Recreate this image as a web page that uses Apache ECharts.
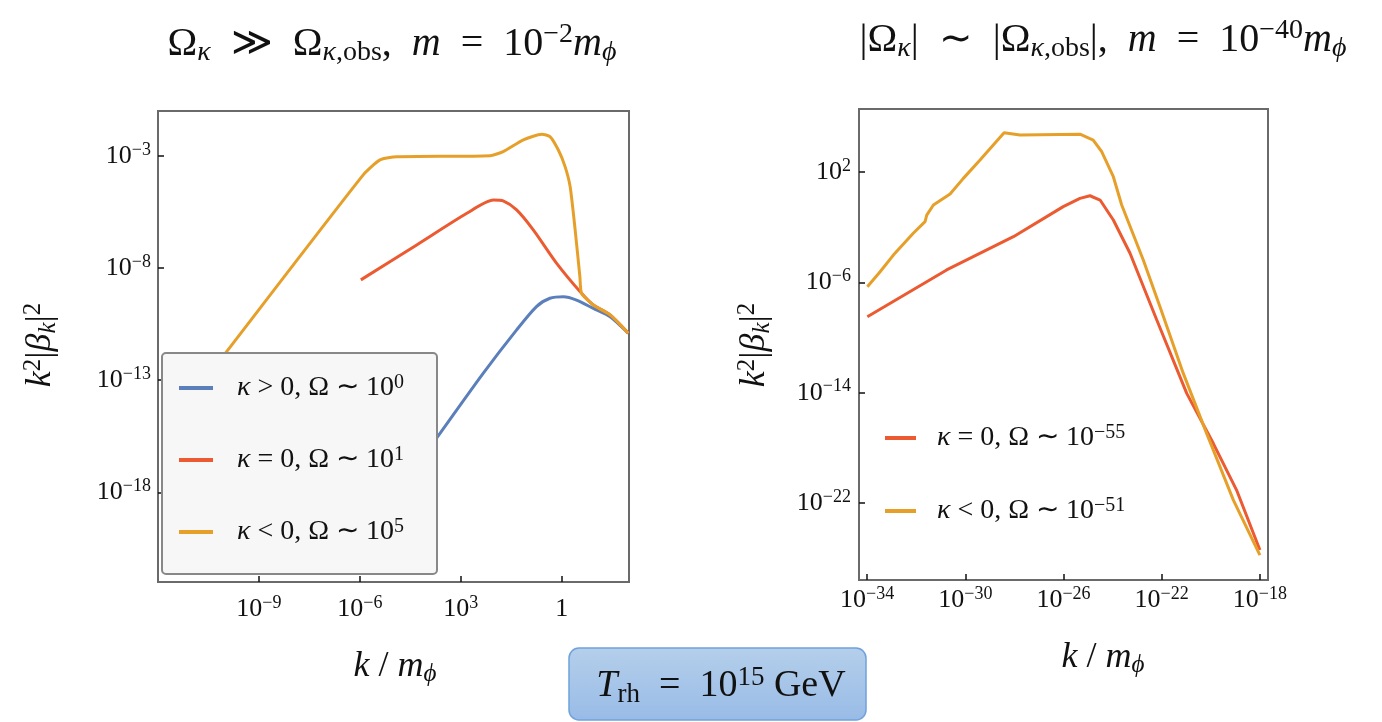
<!DOCTYPE html>
<html>
<head>
<meta charset="utf-8">
<script src="https://cdn.jsdelivr.net/npm/echarts@6/dist/echarts.min.js"></script>
<style>
  html, body { margin: 0; padding: 0; background: #fff; }
  #chart { width: 1382px; height: 722px; }
</style>
</head>
<body>
<div id="chart"></div>
<script>
// all values are log10 exponents: [log10(k/m_phi), log10(k^2|beta_k|^2)]
const leftXTicks = [-9, -6, -3, 0];
const leftXTickLabels = ['10^-9', '10^-6', '10^3', '1'];
const leftYTicks = [-18, -13, -8, -3];
const leftYTickLabels = ['10^-18', '10^-13', '10^-8', '10^-3'];

const rightXTicks = [-34, -30, -26, -22, -18];
const rightXTickLabels = ['10^-34', '10^-30', '10^-26', '10^-22', '10^-18'];
const rightYTicks = [-22, -14, -6, 2];
const rightYTickLabels = ['10^-22', '10^-14', '10^-6', '10^2'];

const leftNames = ['κ > 0, Ω ∼ 10^0', 'κ = 0, Ω ∼ 10^1', 'κ < 0, Ω ∼ 10^5'];
const rightNames = ['κ = 0, Ω ∼ 10^-55', 'κ < 0, Ω ∼ 10^-51'];

const leftBlue = [
  [-6.5, -21.4], [-3.72, -15.59], [-2.33, -12.69], [-1.34, -10.76], [-0.75, -9.72],
  [-0.35, -9.35], [0.05, -9.28], [0.44, -9.43], [0.94, -9.80], [1.44, -10.17], [1.98, -10.91]
];
const leftRed = [
  [-5.97, -8.53], [-4.31, -6.97], [-2.82, -5.56], [-2.03, -4.97], [-1.74, -5.01],
  [-1.34, -5.41], [-0.84, -6.31], [-0.15, -7.79], [0.59, -9.13], [0.94, -9.65],
  [1.44, -10.09], [1.98, -10.91]
];
const leftOrange = [
  [-11, -13.75], [-9.96, -11.73], [-5.90, -3.85], [-5.40, -3.18], [-4.90, -3.04],
  [-2.13, -2.99], [-1.74, -2.81], [-1.14, -2.29], [-0.59, -2.04], [-0.35, -2.14],
  [-0.10, -2.74], [0.10, -3.48], [0.25, -4.37], [0.40, -6.31], [0.54, -8.39],
  [0.59, -9.13], [0.94, -9.65], [1.44, -10.09], [1.98, -10.91]
];

const rightRed = [
  [-33.99, -8.49], [-30.76, -5.10], [-28.04, -2.69], [-26.01, -0.51], [-25.33, 0.09],
  [-24.92, 0.28], [-24.51, -0.03], [-23.97, -1.48], [-23.29, -3.89], [-22.20, -8.73],
  [-20.98, -14.05], [-19.90, -17.67], [-18.95, -21.06], [-18.00, -25.41]
];
const rightOrange = [
  [-33.99, -6.32], [-33.47, -5.23], [-32.93, -4.02], [-32.12, -2.44], [-31.64, -1.60],
  [-31.57, -1.12], [-31.30, -0.39], [-30.62, 0.41], [-30.08, 1.54], [-29.40, 2.87],
  [-28.42, 4.85], [-27.77, 4.68], [-25.33, 4.74], [-24.79, 4.32], [-24.44, 3.47],
  [-23.97, 1.66], [-23.63, -0.39], [-22.75, -4.38], [-22.07, -7.77], [-21.12, -12.60],
  [-20.17, -16.95], [-19.08, -21.79], [-18.00, -25.77]
];

const FONT = 'Liberation Serif';
const BLUE = '#5a7fbb';
const RED = '#ec5a31';
const ORANGE = '#e6a02a';

function richSet(size) {
  const s = Math.round(size * 0.7);
  return {
    it: { fontFamily: FONT, fontStyle: 'italic', fontSize: size, color: '#111' },
    sup: { fontFamily: FONT, fontSize: s, lineHeight: s, verticalAlign: 'top', color: '#111' },
    sub: { fontFamily: FONT, fontSize: s, lineHeight: s - 4, verticalAlign: 'bottom', color: '#111' },
    subit: { fontFamily: FONT, fontStyle: 'italic', fontSize: s, lineHeight: s - 4, verticalAlign: 'bottom', color: '#111' }
  };
}

// '10^-9' -> rich superscript with a real minus sign, kappa in italic
function toRich(str) {
  return str
    .replace(/\^(-?\d+)/g, (m, e) => '{sup|' + e.replace('-', '−') + '}')
    .replace(/κ/g, '{it|κ}');
}

function tickFormatter(ticks, labels) {
  return function (v) {
    for (let i = 0; i < ticks.length; i++) {
      if (Math.abs(ticks[i] - v) < 1e-6) return toRich(labels[i]);
    }
    return '';
  };
}

const tickStyle = { show: true, inside: true, length: 6, lineStyle: { color: '#111', width: 1.5 } };
const labelBase = { fontFamily: FONT, fontSize: 26, lineHeight: 30, color: '#111', rich: richSet(26) };
const noLine = { show: false, onZero: false };

const chart = echarts.init(document.getElementById('chart'));

const option = {
  animation: false,
  backgroundColor: '#fff',
  grid: [
    { left: 158, top: 111, width: 471, height: 471, show: true, borderColor: '#6a6a6a', borderWidth: 2 },
    { left: 859, top: 109, width: 409, height: 471, show: true, borderColor: '#6a6a6a', borderWidth: 2 }
  ],
  xAxis: [
    {
      type: 'value', gridIndex: 0, min: -12, max: 2,
      axisLine: noLine, splitLine: { show: false },
      axisTick: Object.assign({ customValues: leftXTicks }, tickStyle),
      axisLabel: Object.assign({ customValues: leftXTicks, margin: 12,
        formatter: tickFormatter(leftXTicks, leftXTickLabels) }, labelBase)
    },
    {
      type: 'value', gridIndex: 1, min: -34.33, max: -17.67,
      axisLine: noLine, splitLine: { show: false },
      axisTick: Object.assign({ customValues: rightXTicks }, tickStyle),
      axisLabel: Object.assign({ customValues: rightXTicks, margin: 5,
        formatter: tickFormatter(rightXTicks, rightXTickLabels) }, labelBase)
    }
  ],
  yAxis: [
    {
      type: 'value', gridIndex: 0, min: -22, max: -1,
      axisLine: noLine, splitLine: { show: false },
      axisTick: Object.assign({ customValues: leftYTicks }, tickStyle),
      axisLabel: Object.assign({ customValues: leftYTicks, margin: 7,
        formatter: tickFormatter(leftYTicks, leftYTickLabels) }, labelBase)
    },
    {
      type: 'value', gridIndex: 1, min: -27.58, max: 6.57,
      axisLine: noLine, splitLine: { show: false },
      axisTick: Object.assign({ customValues: rightYTicks }, tickStyle),
      axisLabel: Object.assign({ customValues: rightYTicks, margin: 8,
        formatter: tickFormatter(rightYTicks, rightYTickLabels) }, labelBase)
    }
  ],
  legend: [
    {
      data: leftNames, orient: 'vertical', left: 162, top: 353,
      padding: [20, 16, 27, 17], itemGap: 42, itemWidth: 34, itemHeight: 4, icon: 'rect',
      backgroundColor: '#f7f7f7', borderColor: '#888', borderWidth: 2, borderRadius: 4,
      formatter: toRich,
      textStyle: { fontFamily: FONT, fontSize: 28, lineHeight: 30, color: '#111', width: 184,
        padding: [0, 0, 0, 19], rich: richSet(28) }
    },
    {
      data: rightNames, orient: 'vertical', left: 885, top: 423,
      padding: 0, itemGap: 43, itemWidth: 31, itemHeight: 4, icon: 'rect',
      formatter: toRich,
      textStyle: { fontFamily: FONT, fontSize: 28, lineHeight: 30, color: '#111',
        padding: [0, 0, 0, 16], rich: richSet(28) }
    }
  ],
  series: [
    { name: leftNames[0], type: 'line', xAxisIndex: 0, yAxisIndex: 0, data: leftBlue,
      showSymbol: false, symbol: 'none', smooth: 0.25, color: BLUE, lineStyle: { width: 3 } },
    { name: leftNames[1], type: 'line', xAxisIndex: 0, yAxisIndex: 0, data: leftRed,
      showSymbol: false, symbol: 'none', smooth: 0.25, color: RED, lineStyle: { width: 3 } },
    { name: leftNames[2], type: 'line', xAxisIndex: 0, yAxisIndex: 0, data: leftOrange,
      showSymbol: false, symbol: 'none', smooth: 0.2, color: ORANGE, lineStyle: { width: 3 } },
    { name: rightNames[0], type: 'line', xAxisIndex: 1, yAxisIndex: 1, data: rightRed,
      showSymbol: false, symbol: 'none', color: RED, lineStyle: { width: 3 } },
    { name: rightNames[1], type: 'line', xAxisIndex: 1, yAxisIndex: 1, data: rightOrange,
      showSymbol: false, symbol: 'none', color: ORANGE, lineStyle: { width: 3 } }
  ],
  graphic: [
    { type: 'text', x: 392, y: 44, style: {
      text: 'Ω{subit|κ}  ≫  Ω{subit|κ}{sub|,obs},  {it|m}  =  10{sup|−2}{it|m}{subit|ϕ}',
      fontFamily: FONT, fontSize: 40, lineHeight: 46, fill: '#111', align: 'center', verticalAlign: 'middle',
      rich: richSet(40) } },
    { type: 'text', x: 1103, y: 40, style: {
      text: '|Ω{subit|κ}|  ∼  |Ω{subit|κ}{sub|,obs}|,  {it|m}  =  10{sup|−40}{it|m}{subit|ϕ}',
      fontFamily: FONT, fontSize: 40, lineHeight: 46, fill: '#111', align: 'center', verticalAlign: 'middle',
      rich: richSet(40) } },
    { type: 'text', x: 41, y: 345, rotation: Math.PI / 2, style: {
      text: '{it|k}{sup|2}|{it|β}{subit|k}|{sup|2}',
      fontFamily: FONT, fontSize: 36, lineHeight: 40, fill: '#111', align: 'center', verticalAlign: 'middle',
      rich: richSet(36) } },
    { type: 'text', x: 755, y: 345, rotation: Math.PI / 2, style: {
      text: '{it|k}{sup|2}|{it|β}{subit|k}|{sup|2}',
      fontFamily: FONT, fontSize: 36, lineHeight: 40, fill: '#111', align: 'center', verticalAlign: 'middle',
      rich: richSet(36) } },
    { type: 'text', x: 395, y: 667, style: {
      text: '{it|k} / {it|m}{subit|ϕ}',
      fontFamily: FONT, fontSize: 36, lineHeight: 40, fill: '#111', align: 'center', verticalAlign: 'middle',
      rich: richSet(36) } },
    { type: 'text', x: 1103, y: 658, style: {
      text: '{it|k} / {it|m}{subit|ϕ}',
      fontFamily: FONT, fontSize: 36, lineHeight: 40, fill: '#111', align: 'center', verticalAlign: 'middle',
      rich: richSet(36) } },
    { type: 'rect', shape: { x: 569, y: 648, width: 297, height: 72, r: 10 }, style: {
      fill: new echarts.graphic.LinearGradient(0, 0, 0, 1, [
        { offset: 0, color: '#b5cfeb' }, { offset: 1, color: '#98bbe6' }
      ]),
      stroke: '#6ea2dc', lineWidth: 1.5 } },
    { type: 'text', x: 721, y: 686, z: 10, style: {
      text: '{it|T}{sub|rh}  =  10{sup|15} GeV',
      fontFamily: FONT, fontSize: 38, lineHeight: 44, fill: '#111', align: 'center', verticalAlign: 'middle',
      rich: richSet(38) } }
  ]
};

chart.setOption(option);
</script>
</body>
</html>
